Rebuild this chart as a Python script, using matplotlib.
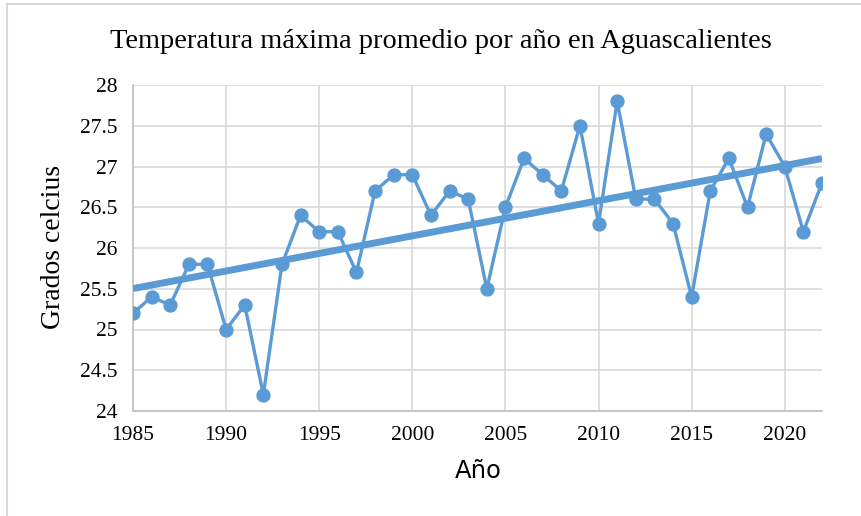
import matplotlib.pyplot as plt
import numpy as np
from matplotlib.lines import Line2D

years = np.arange(1985, 2023)
temps = [
    25.2, 25.4, 25.3, 25.8, 25.8, 25.0, 25.3, 24.2, 25.8, 26.4,
    26.2, 26.2, 25.7, 26.7, 26.9, 26.9, 26.4, 26.7, 26.6, 25.5,
    26.5, 27.1, 26.9, 26.7, 27.5, 26.3, 27.8, 26.6, 26.6, 26.3,
    25.4, 26.7, 27.1, 26.5, 27.4, 27.0, 26.2, 26.8,
]
x_ticks = [1985, 1990, 1995, 2000, 2005, 2010, 2015, 2020]
y_ticks = [24, 24.5, 25, 25.5, 26, 26.5, 27, 27.5, 28]

BLUE = "#5b9bd5"
GRID = "#d9d9d9"
W, H = 861, 516

fig = plt.figure(figsize=(W / 100, H / 100), dpi=100)
ax = fig.add_axes([133 / W, 1 - 411 / H, (822 - 133) / W, (411 - 85) / H])

# linear trend line, like the spreadsheet one
slope, intercept = np.polyfit(years, temps, 1)
ax.plot(years, slope * years + intercept, color=BLUE, linewidth=5,
        solid_capstyle="butt", zorder=3)
ax.plot(years, temps, color=BLUE, linewidth=2.4, marker="o",
        markersize=9.3, zorder=4)

ax.set_xlim(1985, 2022)
ax.set_ylim(24, 28)
ax.set_xticks(x_ticks)
ax.set_yticks(y_ticks)
ax.set_yticklabels([f"{v:g}" for v in y_ticks])
ax.grid(True, color=GRID, linewidth=1.2)
ax.set_axisbelow(True)
ax.tick_params(length=0, labelsize=15.5, pad=11)
for lab in ax.get_xticklabels() + ax.get_yticklabels():
    lab.set_family("Liberation Serif")
for side in ("top", "right"):
    ax.spines[side].set_visible(False)
for side in ("left", "bottom"):
    ax.spines[side].set_color("#bfbfbf")
    ax.spines[side].set_linewidth(1.2)

fig.text(441 / W, 1 - 42 / H, "Temperatura máxima promedio por año en Aguascalientes",
         ha="center", va="center", family="Liberation Serif", fontsize=20.4)
fig.text(54 / W, 1 - 247 / H, "Grados celcius", rotation=90, ha="center",
         va="center", family="Liberation Serif", fontsize=20)
fig.text(478 / W, 1 - 471 / H, "Año", ha="center", va="center",
         family="DejaVu Sans", fontsize=17.5)

# faint outer frame of the chart box
fig.add_artist(Line2D([7 / W, 1], [1 - 4 / H, 1 - 4 / H], color="#d9d9d9",
                      linewidth=1.5, transform=fig.transFigure))
fig.add_artist(Line2D([7 / W, 7 / W], [0, 1 - 4 / H], color="#d9d9d9",
                      linewidth=1.5, transform=fig.transFigure))

fig.savefig("out.png", dpi=100)
